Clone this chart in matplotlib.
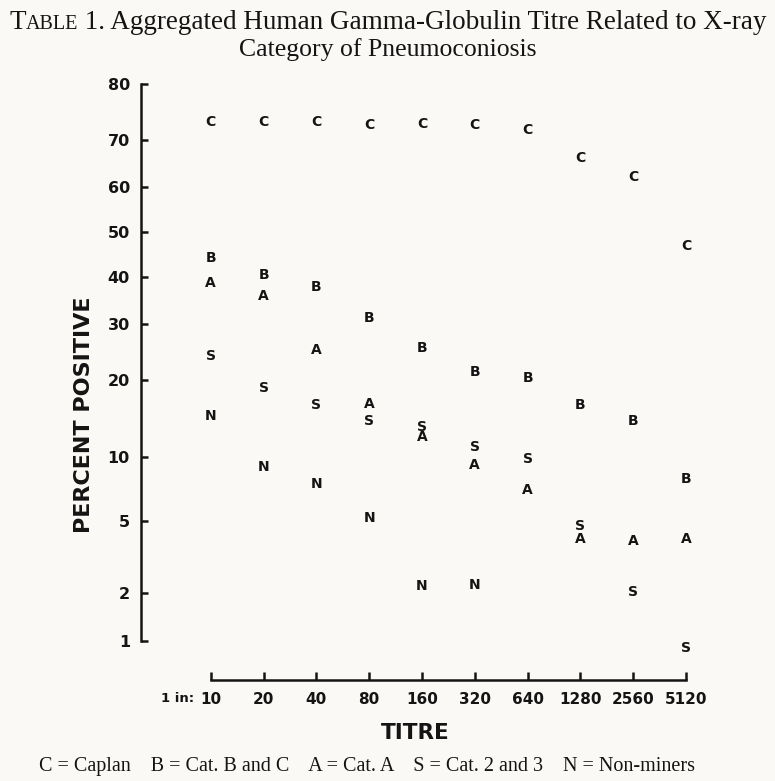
import numpy as np
import matplotlib
matplotlib.use("Agg")
import matplotlib.pyplot as plt
from matplotlib.ticker import NullLocator
from statistics import NormalDist

# ---------------- data (percent positive) ----------------
titres = [10, 20, 40, 80, 160, 320, 640, 1280, 2560, 5120]
titre_labels = ["10", "20", "40", "80", "160", "320", "640", "1280", "2560", "5120"]
caplan = [73.7, 73.7, 73.7, 73.1, 73.3, 73.1, 72.2, 66.6, 62.6, 47.2]
cat_b_and_c = [44.5, 40.7, 38.1, 31.6, 25.8, 21.5, 20.6, 16.4, 14.3, 8.1]
cat_a = [39.0, 36.1, 25.4, 16.6, 12.3, 9.4, 7.2, 4.1, 4.0, 4.1]
cat_2_and_3 = [24.3, 19.0, 16.4, 14.3, 13.5, 11.2, 10.0, 4.8, 2.06, 0.92]
non_miners = [14.9, 9.2, 7.7, 5.3, 2.26, 2.29, None, None, None, None]
series_letters = ["C", "B", "A", "S", "N"]
y_ticks = [1, 2, 5, 10, 20, 30, 40, 50, 60, 70, 80]
y_tick_labels = ["1", "2", "5", "10", "20", "30", "40", "50", "60", "70", "80"]

BG = "#faf9f5"
INK = "#141414"
W, H = 775, 781

_nd = NormalDist()


def _fwd(p):
    p = np.asarray(p, dtype=float)
    q = np.clip(p / 100.0, 1e-9, 1 - 1e-9)
    vals = [(_nd.inv_cdf(v) if np.isfinite(v) else np.nan) for v in q.ravel()]
    return np.array(vals, dtype=float).reshape(p.shape)


def _inv(z):
    z = np.asarray(z, dtype=float)
    vals = [(_nd.cdf(v) * 100.0 if np.isfinite(v) else np.nan) for v in z.ravel()]
    return np.array(vals, dtype=float).reshape(z.shape)


fig = plt.figure(figsize=(W / 100, H / 100), dpi=100, facecolor=BG)
ax = fig.add_axes([141 / W, 1 - 641 / H, 579 / W, (641 - 84) / H])
ax.set_facecolor("none")

ax.set_yscale("function", functions=(_fwd, _inv))
ax.set_ylim(1, 80)
ax.set_xscale("log", base=2)
ax.set_xlim(4, 8000)

ax.set_xticks(titres, labels=titre_labels)
ax.xaxis.set_minor_locator(NullLocator())
ax.set_yticks(y_ticks, labels=y_tick_labels)
ax.yaxis.set_minor_locator(NullLocator())

for s in ["top", "right"]:
    ax.spines[s].set_visible(False)
ax.spines["left"].set_linewidth(1.8)
ax.spines["left"].set_color(INK)
ax.spines["bottom"].set_linewidth(1.8)
ax.spines["bottom"].set_color(INK)
ax.spines["bottom"].set_position(("outward", 28))
ax.spines["bottom"].set_bounds(10, 5120)

ax.tick_params(axis="y", direction="in", length=5, width=1.8, pad=8,
               labelsize=11.5, colors=INK)
ax.tick_params(axis="x", direction="in", length=6, width=1.8, pad=8.5,
               labelsize=11, colors=INK)
for lab in ax.get_xticklabels() + ax.get_yticklabels():
    lab.set_fontweight("bold")

all_series = [caplan, cat_b_and_c, cat_a, cat_2_and_3, non_miners]
for letter, values in zip(series_letters, all_series):
    for x, v in zip(titres, values):
        if v is None:
            continue
        ax.text(x, v, letter, ha="center", va="center_baseline", fontsize=10,
                fontweight="bold", color=INK, clip_on=False)

# axis labels
fig.text(84 / W, 1 - 415 / H, "PERCENT POSITIVE", rotation=90, ha="center",
         va="center", fontsize=16, fontweight="bold", color=INK)
fig.text(415 / W, 1 - 733 / H, "TITRE", ha="center", va="center",
         fontsize=15.5, fontweight="bold", color=INK)
fig.text(194 / W, 1 - 698 / H, "1 in:", ha="right", va="center",
         fontsize=9.5, fontweight="bold", color=INK)

SERIF = ["Liberation Serif", "DejaVu Serif"]


def draw_pieces(pieces, cx_px, base_px):
    texts = [fig.text(0, 1 - base_px / H, s, fontsize=fs, family=SERIF,
                      va="baseline", ha="left", color=INK) for s, fs in pieces]
    r = fig.canvas.get_renderer()
    widths = [t.get_window_extent(r).width for t in texts]
    x = cx_px - sum(widths) / 2
    for t, w in zip(texts, widths):
        t.set_x(x / W)
        x += w


draw_pieces([("T", 19.5), ("ABLE", 14.5),
             (" 1. Aggregated Human Gamma-Globulin Titre Related to X-ray", 19.5)],
            388, 29)
draw_pieces([("Category of Pneumoconiosis", 18.5)], 388, 56)

fig.text(367 / W, 1 - 766 / H,
         "C = Caplan    B = Cat. B and C    A = Cat. A    S = Cat. 2 and 3    N = Non-miners",
         ha="center", va="center", fontsize=14.5, family=SERIF, color=INK)

fig.savefig("out.png", dpi=100, facecolor=BG)
